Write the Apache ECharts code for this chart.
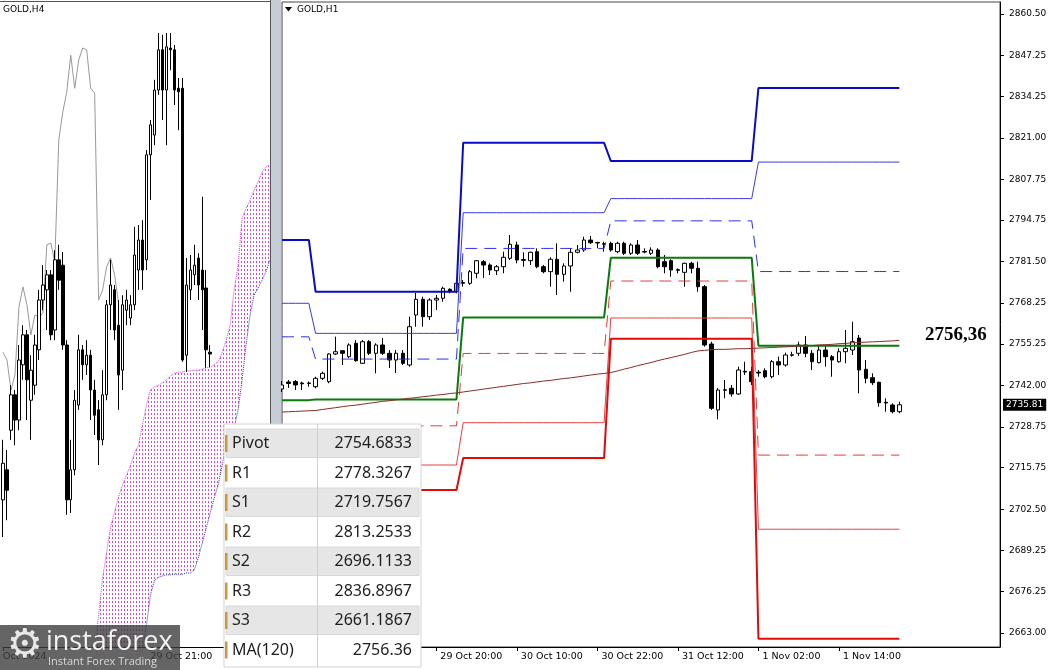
<!DOCTYPE html>
<html><head><meta charset="utf-8">
<script src="https://cdn.jsdelivr.net/npm/echarts@6.0.0/dist/echarts.min.js"></script>
<style>html,body{margin:0;padding:0;background:#fff;}#c{width:1055px;height:670px;}</style>
</head><body><div id="c"></div>
<script>
// ===== Right panel (GOLD,H1) data =====
const dayNames = ['28 Oct', '29 Oct', '30 Oct', '31 Oct', '1 Nov'];
const firstSessionHours = [19, 20, 21, 22, 23];
const sessionHours = [2,3,4,5,6,7,8,9,10,11,12,13,14,15,16,17,18,19,20,21,22,23];
const rightPadBars = 15;
const xTickLabels = ['29 Oct 20:00', '30 Oct 10:00', '30 Oct 22:00', '31 Oct 12:00', '1 Nov 02:00', '1 Nov 14:00'];
const yTickValues = [2663.00, 2676.25, 2689.25, 2702.50, 2715.75, 2728.75, 2742.00, 2755.25, 2768.25, 2781.50, 2794.75, 2807.75, 2821.00, 2834.25, 2847.25, 2860.50];

// daily pivot levels, one value per day in dayNames
const levelP  = [2737.3, 2737.5, 2763.7, 2782.7, 2754.6833];
const levelR1 = [2757.5, 2750.4, 2785.7, 2794.5, 2778.3267];
const levelS1 = [2726.6, 2729.1, 2752.2, 2775.3, 2719.7567];
const levelR2 = [2768.2, 2758.6, 2797.1, 2801.6, 2813.2533];
const levelS2 = [2706.4, 2716.6, 2730.1, 2763.5, 2696.1133];
const levelR3 = [2788.4, 2771.9, 2819.4, 2813.6, 2836.8967];
const levelS3 = [2695.7, 2708.6, 2718.8, 2756.9, 2661.1867];

// H1 candles: [open, close, low, high]
const candlesH1 = [
[2740.85,2742.13,2739.89,2743.40],[2743.08,2742.61,2741.17,2743.72],[2743.24,2742.13,2740.53,2743.72],[2742.77,2742.51,2740.53,2743.18],
[2742.61,2742.77,2741.58,2743.18],[2741.58,2744.26,2741.07,2744.77],[2744.26,2745.86,2743.72,2746.37],[2743.18,2752.02,2742.67,2752.24],
[2752.02,2752.75,2751.70,2757.54],[2753.07,2752.24,2748.51,2753.29],[2751.16,2754.89,2750.74,2755.43],[2755.43,2749.88,2749.56,2756.48],
[2749.05,2755.94,2748.83,2756.48],[2755.94,2752.24,2751.70,2756.48],[2752.24,2754.89,2745.86,2755.43],[2754.89,2752.24,2751.70,2757.12],
[2752.24,2750.10,2747.55,2753.29],[2750.10,2752.24,2745.96,2753.29],[2752.24,2749.05,2748.51,2753.29],[2748.51,2760.73,2747.97,2763.92],
[2764.46,2769.47,2760.73,2771.48],[2769.47,2763.92,2760.73,2770.30],[2763.92,2769.25,2762.87,2769.79],[2769.25,2769.79,2766.06,2770.84],
[2769.79,2772.98,2768.70,2773.49],[2772.66,2771.89,2771.38,2772.98],[2771.89,2774.58,2771.38,2775.09],[2774.58,2774.83,2773.49,2775.63],
[2774.58,2778.28,2774.03,2778.82],[2777.77,2781.79,2776.17,2782.01],[2781.47,2780.41,2776.27,2782.01],[2780.41,2778.82,2777.22,2780.96],
[2778.60,2779.87,2777.22,2780.41],[2779.87,2782.87,2777.77,2784.66],[2782.55,2787.02,2782.01,2789.99],[2786.80,2782.01,2780.96,2787.85],
[2782.17,2781.91,2779.87,2784.47],[2781.79,2784.47,2780.41,2784.66],[2784.66,2779.87,2779.36,2785.74],[2779.87,2778.28,2777.77,2780.41],
[2778.28,2782.23,2773.49,2782.87],[2782.23,2777.45,2770.84,2787.34],[2777.45,2780.10,2775.09,2780.96],[2780.10,2784.47,2771.89,2785.74],
[2784.47,2785.20,2784.15,2786.80],[2785.20,2788.39,2784.66,2789.44],[2788.39,2787.53,2787.11,2789.67],[2787.59,2787.43,2785.74,2787.85],
[2787.21,2787.02,2784.66,2787.85],[2787.34,2785.20,2784.66,2787.85],[2784.66,2787.34,2784.15,2787.85],[2787.34,2784.15,2783.60,2787.85],
[2784.15,2786.80,2783.60,2787.34],[2786.80,2784.15,2783.60,2788.39],[2784.72,2784.56,2784.15,2785.74],[2784.15,2785.20,2783.60,2786.06],
[2785.20,2779.87,2779.36,2785.74],[2781.47,2779.87,2777.77,2783.60],[2781.79,2778.82,2776.68,2782.23],[2778.92,2778.72,2777.77,2779.36],
[2778.08,2780.96,2773.49,2781.15],[2780.96,2779.36,2777.77,2781.47],[2779.36,2773.49,2771.89,2781.47],[2773.49,2754.89,2754.35,2774.03],
[2755.21,2734.69,2734.15,2755.94],[2734.15,2740.53,2731.18,2741.17],[2740.44,2740.63,2737.88,2743.72],[2741.07,2739.26,2738.39,2742.13],
[2739.26,2746.91,2738.94,2747.97],[2746.50,2746.27,2745.32,2749.56],[2746.37,2743.18,2742.13,2747.97],[2746.18,2745.96,2744.77,2746.91],
[2746.69,2744.77,2744.26,2747.45],[2744.77,2749.56,2744.26,2750.10],[2749.56,2748.51,2745.32,2751.16],[2748.51,2751.70,2747.97,2752.43],
[2751.60,2751.80,2751.16,2752.75],[2752.24,2754.89,2751.38,2755.94],[2754.89,2752.24,2750.96,2757.76],[2752.24,2749.56,2746.91,2753.29],
[2749.24,2753.29,2749.05,2754.89],[2753.29,2751.16,2747.97,2754.89],[2751.16,2750.10,2744.77,2751.70],[2749.56,2752.75,2749.24,2753.84],
[2752.75,2753.84,2749.05,2759.68],[2753.29,2755.94,2751.70,2762.32],[2757.12,2746.91,2739.48,2758.08],[2747.14,2744.26,2742.67,2750.10],
[2744.46,2742.86,2742.13,2745.86],[2742.99,2736.48,2735.20,2743.18],[2736.61,2736.38,2733.61,2737.88],[2735.75,2733.61,2733.10,2736.29],
[2733.61,2735.81,2733.10,2736.80]
];

// MA(120) per H1 bar
const ma120 = [
2733.5,2733.6,2733.7,2733.8,2733.9,2734.0,
2734.3,2734.6,2734.9,2735.2,2735.5,2735.7,2736.0,2736.3,2736.6,2736.9,
2737.1,2737.4,2737.6,2737.9,2738.1,2738.4,2738.6,2738.9,2739.1,2739.4,2739.6,
2739.9,2740.2,2740.5,2740.8,2741.1,2741.4,2741.7,2742.0,2742.3,
2742.6,2742.8,2743.1,2743.4,2743.6,2743.9,2744.2,2744.4,2744.7,2745.0,
2745.3,2745.6,2745.8,2746.1,
2746.6,2747.2,2747.7,2748.3,2748.8,
2749.3,2749.9,2750.4,2750.9,2751.4,2751.9,2752.5,2753.0,
2753.2,2753.4,2753.5,2753.5,2753.6,2753.7,2753.7,2753.8,2753.9,
2754.0,2754.1,2754.2,2754.3,2754.4,2754.5,2754.6,
2754.7,2754.9,2755.0,2755.1,2755.3,2755.4,2755.6,
2755.7,2755.8,2755.9,2756.0,2756.1,2756.2,2756.36
];

// ===== Left panel (GOLD,H4) data =====
const leftBarCount = 68;
const leftTickLabels = [{ bar: 0, text: 'Oct 2024' }, { bar: 37, text: '29 Oct 21:00' }];
const candlesH4 = [
[2712.7,2718.8,2706.5,2722.7],[2717.7,2714.3,2709.3,2721.0],[2724.3,2730.2,2722.7,2731.8],[2730.2,2726.0,2721.8,2731.0],
[2726.0,2736.0,2724.3,2738.5],[2735.2,2740.2,2732.7,2741.8],[2740.2,2732.7,2726.0,2741.0],[2729.3,2734.3,2722.7,2736.8],
[2731.8,2738.5,2730.2,2740.2],[2737.7,2746.0,2736.0,2747.7],[2746.0,2748.5,2744.3,2751.8],[2747.7,2750.2,2741.0,2751.0],
[2750.2,2740.2,2739.3,2751.0],[2741.0,2752.7,2739.3,2754.3],[2752.7,2749.3,2747.7,2755.2],[2751.8,2738.5,2737.7,2754.0],
[2738.5,2712.7,2710.2,2739.3],[2712.7,2717.7,2710.5,2722.7],[2717.7,2729.3,2716.8,2731.0],[2728.5,2737.7,2727.7,2740.2],
[2737.7,2735.2,2732.7,2738.5],[2735.2,2736.8,2733.5,2739.3],[2736.8,2731.0,2726.0,2737.7],[2731.0,2726.8,2723.5,2732.7],
[2727.7,2722.7,2718.5,2729.3],[2722.7,2730.2,2721.8,2734.3],[2730.2,2745.2,2729.3,2746.0],[2745.2,2748.5,2741.0,2752.7],
[2747.7,2741.0,2739.3,2748.5],[2741.8,2733.5,2727.7,2746.0],[2734.3,2745.2,2731.0,2746.8],[2744.3,2746.0,2741.8,2747.7],
[2743.0,2745.2,2741.8,2746.8],[2745.2,2753.5,2744.3,2758.2],[2751.0,2756.0,2747.7,2758.5],[2756.0,2751.0,2747.7,2759.3],
[2752.7,2770.2,2751.0,2771.0],[2770.2,2775.2,2762.7,2776.0],[2773.5,2781.0,2771.8,2782.7],[2781.0,2787.7,2780.2,2790.5],
[2787.7,2781.0,2776.0,2790.2],[2781.0,2788.2,2771.8,2790.5],[2788.0,2787.7,2784.3,2790.5],[2787.7,2781.0,2778.5,2788.5],
[2781.3,2780.7,2774.3,2783.0],[2781.3,2736.0,2735.7,2783.0],[2736.8,2748.5,2734.0,2753.0],[2747.7,2751.0,2746.0,2753.5],
[2750.2,2751.8,2748.5,2755.2],[2753.0,2748.5,2746.0,2753.8],[2751.0,2747.7,2741.0,2763.2],[2748.0,2737.7,2734.7,2751.0],
[2737.3,2737.0,2734.8,2738.5]
];
const laggingSpan = [2737.3,2736.0,2731.0,2733.5,2744.8,2748.2,2745.2,2740.2,2743.5,2743.2,2743.8,2755.2,2755.5,2752.3,2772.7,2777.3,
2780.7,2786.8,2781.3,2786.0,2788.0,2787.7,2781.3,2780.5,2746.0,2747.7,2751.5,2753.0,2750.2,2745.5];
const cloudLeadBars = 23;
const cloudUpper = [2687.7,2693.5,2699.7,2704.0,2708.2,2710.7,2713.2,2715.2,2716.8,2718.5,2720.5,2721.8,2725.2,2728.5,2731.0,2731.5,
2731.8,2732.2,2732.7,2733.3,2733.8,2734.0,2734.0,2734.2,2734.2,2734.3,2734.3,2734.5,2734.7,2734.8,2735.2,2735.7,2737.3,2739.3,2741.8,
2747.7,2751.8,2759.7,2761.3,2762.7,2764.3,2765.7,2767.3,2768.2,2768.5];
const cloudLower = [2662.7,2666.0,2669.3,2671.8,2674.3,2676.8,2678.5,2680.2,2681.8,2683.5,2685.2,2686.8,2687.7,2691.8,2696.8,2699.3,
2699.8,2700.0,2700.2,2700.2,2700.3,2700.3,2700.3,2700.5,2700.5,2701.0,2703.0,2705.5,2708.0,2710.5,2713.0,2715.2,2718.5,2721.8,2723.5,
2724.7,2727.7,2732.7,2738.5,2743.5,2746.8,2748.0,2749.3,2750.7,2752.7];

// ===== Table =====
const tableNames = ['Pivot', 'R1', 'S1', 'R2', 'S2', 'R3', 'S3', 'MA(120)'];

// ---------- build ----------
const categories = [], barDay = [];
dayNames.forEach((d, di) => {
  (di === 0 ? firstSessionHours : sessionHours).forEach(h => {
    categories.push(d + ' ' + String(h).padStart(2, '0') + ':00'); barDay.push(di);
  });
});
for (let k = 0; k < rightPadBars; k++) categories.push('');
const perBar = arr => categories.map((c, i) => i < barDay.length ? arr[barDay[i]] : null);

const leftCats = [];
for (let i = 0; i < leftBarCount; i++) leftCats.push('');
leftTickLabels.forEach(t => { leftCats[t.bar] = t.text; });
const nullPad = n => { const a = []; for (let i = 0; i < n; i++) a.push(null); return a; };
const kumoLower = nullPad(cloudLeadBars).concat(cloudLower);
const kumoDiff = nullPad(cloudLeadBars).concat(cloudUpper.map((u, i) => +(u - cloudLower[i]).toFixed(2)));

const lastClose = candlesH1[candlesH1.length - 1][1];
const maLast = ma120[ma120.length - 1];
const tableVals = [levelP, levelR1, levelS1, levelR2, levelS2, levelR3, levelS3].map(a => a[a.length - 1].toFixed(4)).concat([maLast.toFixed(2)]);

// hatch pattern for the cloud
const pat = document.createElement('canvas'); pat.width = 3; pat.height = 4;
const pc = pat.getContext('2d'); pc.fillStyle = '#d844d8'; pc.fillRect(1, 1, 1, 2);

const axisFont = 'DejaVu Sans';
const lineSeries = (name, arr, color, width, type) => ({
  name, type: 'line', xAxisIndex: 1, yAxisIndex: 1, data: perBar(arr), symbol: 'none', z: 4,
  lineStyle: { color, width, type: type || 'solid' }, silent: true
});

const graphics = [];
// splitter between panels
graphics.push({ type: 'rect', shape: { x: 270, y: 0, width: 11, height: 648 }, style: { fill: '#c6cdd6' }, z: 50 });
graphics.push({ type: 'line', shape: { x1: 270.5, y1: 0, x2: 270.5, y2: 648 }, style: { stroke: '#555', lineWidth: 1 }, z: 51 });
graphics.push({ type: 'line', shape: { x1: 0, y1: 1.5, x2: 270, y2: 1.5 }, style: { stroke: '#555', lineWidth: 1 }, z: 51 });
// titles
graphics.push({ type: 'text', x: 3, y: 10, style: { text: 'GOLD,H4', font: '9px "DejaVu Sans"', fill: '#000', verticalAlign: 'middle' }, z: 60 });
graphics.push({ type: 'polygon', shape: { points: [[285, 7], [292, 7], [288.5, 11.5]] }, style: { fill: '#000' }, z: 60 });
graphics.push({ type: 'text', x: 297, y: 10, style: { text: 'GOLD,H1', font: '9px "DejaVu Sans"', fill: '#000', verticalAlign: 'middle' }, z: 60 });
// MA annotation
graphics.push({ type: 'text', x: 925, y: 335, style: { text: maLast.toFixed(2).replace('.', ','), font: 'bold 19px "Liberation Serif"', fill: '#000', verticalAlign: 'middle' }, z: 60 });
// table (each element carries its own z so it sits above the series)
const TZ = 100;
const tX = 224, tY = 424, tW = 197, rowH = 29.5, rowTop = 429;
graphics.push({ type: 'rect', z: TZ, shape: { x: tX, y: tY, width: tW, height: 243 }, style: { fill: '#fff', stroke: '#d4d4d4', lineWidth: 1 } });
tableNames.forEach((nm, r) => {
  const y0 = rowTop + r * rowH;
  if (r % 2 === 0) graphics.push({ type: 'rect', z: TZ + 1, shape: { x: tX + 2, y: y0, width: tW - 4, height: rowH - 1 }, style: { fill: '#e6e6e6', stroke: '#d8d8d8', lineWidth: 1 } });
  graphics.push({ type: 'rect', z: TZ + 2, shape: { x: tX + 1, y: y0 + 6, width: 2.5, height: 17 }, style: { fill: '#c99a3c' } });
  graphics.push({ type: 'text', z: TZ + 3, x: 232, y: y0 + rowH / 2, style: { text: nm, font: '16px "Noto Sans"', fill: '#1e1e1e', verticalAlign: 'middle' } });
  graphics.push({ type: 'text', z: TZ + 3, x: 412, y: y0 + rowH / 2, style: { text: tableVals[r], font: '16px "Noto Sans"', fill: '#1e1e1e', verticalAlign: 'middle', align: 'right' } });
});
graphics.push({ type: 'line', z: TZ + 2, shape: { x1: 317.5, y1: tY, x2: 317.5, y2: tY + 243 }, style: { stroke: '#d0d0d0', lineWidth: 1 } });
// logo
const LZ = 120;
graphics.push({ type: 'rect', z: LZ, shape: { x: 0, y: 625, width: 180, height: 45 }, style: { fill: 'rgba(62,62,62,0.8)' } });
graphics.push({ type: 'text', z: LZ + 1, x: 25, y: 647, style: { text: '\u2699', font: '40px "DejaVu Sans"', fill: '#e8e8e8', align: 'center', verticalAlign: 'middle' } });
graphics.push({ type: 'text', z: LZ + 1, x: 46, y: 642, style: { text: 'instaforex', font: '27px "Open Sans"', fill: '#f2f2f2', verticalAlign: 'middle' } });
graphics.push({ type: 'text', z: LZ + 1, x: 48, y: 662, style: { text: 'Instant Forex Trading', font: '11px "Open Sans"', fill: '#d8d8d8', verticalAlign: 'middle' } });

const option = {
  animation: false,
  backgroundColor: '#ffffff',
  grid: [
    { left: 2, top: 2, width: 268, height: 645 },
    { left: 282, top: 2, width: 718, height: 645, show: true, borderColor: '#444', borderWidth: 1, backgroundColor: 'transparent' }
  ],
  xAxis: [
    { gridIndex: 0, type: 'category', data: leftCats, boundaryGap: false,
      axisLine: { show: true, lineStyle: { color: '#000' } },
      axisTick: { show: true, length: 4, interval: (i, v) => v !== '', lineStyle: { color: '#000' } },
      axisLabel: { interval: (i, v) => v !== '', align: 'left', margin: 5, color: '#000', fontFamily: axisFont, fontSize: 9.5 },
      splitLine: { show: false } },
    { gridIndex: 1, type: 'category', data: categories, boundaryGap: false,
      axisLine: { show: true, lineStyle: { color: '#000' } },
      axisTick: { show: true, length: 4, interval: (i, v) => xTickLabels.indexOf(v) >= 0, lineStyle: { color: '#000' } },
      axisLabel: { interval: (i, v) => xTickLabels.indexOf(v) >= 0, align: 'left', margin: 5, padding: [0, 0, 0, 4], color: '#000', fontFamily: axisFont, fontSize: 9.5 },
      splitLine: { show: false } }
  ],
  yAxis: [
    { gridIndex: 0, type: 'value', min: 2688.17, max: 2795.67, show: false, splitLine: { show: false } },
    { gridIndex: 1, type: 'value', position: 'right', min: 2658.53, max: 2864.33,
      splitLine: { show: false },
      axisLine: { show: true, lineStyle: { color: '#000' } },
      axisTick: { show: true, length: 4, customValues: yTickValues, lineStyle: { color: '#000' } },
      axisLabel: { customValues: yTickValues, formatter: v => Number(v).toFixed(2), margin: 9, color: '#000', fontFamily: axisFont, fontSize: 9 } }
  ],
  series: [
    // left panel
    { type: 'line', xAxisIndex: 0, yAxisIndex: 0, data: kumoLower, stack: 'kumo', symbol: 'none', silent: true, z: 1,
      lineStyle: { color: '#3535b8', width: 1, type: 'dotted' } },
    { type: 'line', xAxisIndex: 0, yAxisIndex: 0, data: kumoDiff, stack: 'kumo', symbol: 'none', silent: true, z: 1,
      lineStyle: { color: '#d744d7', width: 1, type: 'dotted' },
      areaStyle: { color: { image: pat, repeat: 'repeat' }, opacity: 1 } },
    { type: 'line', xAxisIndex: 0, yAxisIndex: 0, data: laggingSpan, symbol: 'none', silent: true, z: 2,
      lineStyle: { color: '#9a9a9a', width: 1 } },
    { type: 'candlestick', xAxisIndex: 0, yAxisIndex: 0, data: candlesH4, barWidth: 3, silent: true, z: 3,
      itemStyle: { color: '#ffffff', color0: '#000000', borderColor: '#000000', borderColor0: '#000000', borderWidth: 1 } },
    // right panel
    { type: 'candlestick', xAxisIndex: 1, yAxisIndex: 1, data: candlesH1, barWidth: 4, silent: true, z: 3,
      itemStyle: { color: '#ffffff', color0: '#000000', borderColor: '#000000', borderColor0: '#000000', borderWidth: 1 },
      markLine: { silent: true, symbol: ['none', 'none'], animation: false,
        lineStyle: { color: 'rgba(0,0,0,0)', width: 0 },
        label: { show: true, position: 'end', formatter: () => lastClose.toFixed(2), backgroundColor: '#000', color: '#fff',
          fontFamily: axisFont, fontSize: 9, padding: [2, 3, 1, 3], distance: 3 },
        data: [{ yAxis: lastClose }] } },
    lineSeries('R3', levelR3, '#0a0ac8', 2),
    lineSeries('R2', levelR2, '#3a3ae0', 1),
    lineSeries('R1', levelR1, '#2e2ee8', 1, [12, 7]),
    lineSeries('Pivot', levelP, '#0a7a0a', 2),
    lineSeries('S1', levelS1, '#e23a3a', 1, [12, 7]),
    lineSeries('S2', levelS2, '#e64040', 1),
    lineSeries('S3', levelS3, '#e00a0a', 2),
    { name: 'MA(120)', type: 'line', xAxisIndex: 1, yAxisIndex: 1, data: ma120, symbol: 'none', silent: true, z: 4,
      lineStyle: { color: '#8a2b2b', width: 1 } }
  ],
  graphic: { elements: graphics }
};
const chart = echarts.init(document.getElementById('c'));
chart.setOption(option);
</script></body></html>
